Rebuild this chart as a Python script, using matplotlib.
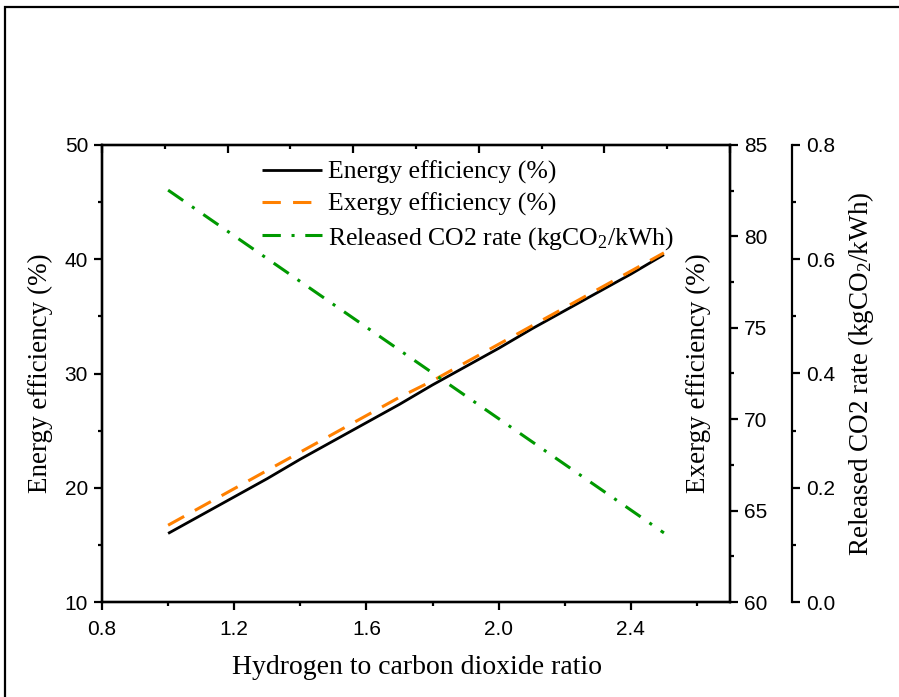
import matplotlib
matplotlib.use("Agg")
import matplotlib.pyplot as plt
from matplotlib.patches import Rectangle
from matplotlib.ticker import MultipleLocator, FormatStrFormatter

plt.rcParams['font.family'] = ['Liberation Sans', 'DejaVu Sans']
plt.rcParams['mathtext.fontset'] = 'custom'
plt.rcParams['mathtext.rm'] = 'Liberation Serif'
plt.rcParams['mathtext.it'] = 'Liberation Serif:italic'

ratio = [1.0, 1.1, 1.2, 1.3, 1.4, 1.5, 1.6, 1.7, 1.8, 1.9, 2.0, 2.1, 2.2, 2.3, 2.4, 2.5]
energy_eff = [16.0, 17.6, 19.2, 20.8, 22.5, 24.1, 25.7, 27.3, 29.0, 30.6, 32.2, 33.9, 35.5, 37.1, 38.7, 40.4]
exergy_eff = [64.2, 65.2, 66.2, 67.2, 68.2, 69.2, 70.2, 71.2, 72.1, 73.1, 74.1, 75.1, 76.1, 77.1, 78.1, 79.1]
co2_rate = [0.721, 0.681, 0.641, 0.601, 0.561, 0.521, 0.481, 0.441, 0.401, 0.361, 0.321, 0.281, 0.241, 0.201, 0.161, 0.121]

xlabel = "Hydrogen to carbon dioxide ratio"
ylabel1 = "Energy efficiency (%)"
ylabel2 = "Exergy efficiency (%)"
ylabel3 = "Released CO2 rate (kgCO$_2$/kWh)"
leg_labels = ["Energy efficiency (%)", "Exergy efficiency (%)", "Released CO2 rate (kgCO$_2$/kWh)"]

W, H = 899, 697
fig = plt.figure(figsize=(W / 100, H / 100), dpi=100)
L, R, B, T = 102, 730, 602, 145
AW, AH = R - L, B - T
ax = fig.add_axes([L / W, 1 - B / H, AW / W, AH / H])

# figure border
fig.add_artist(Rectangle((5 / W, -0.1), 1.2, (H - 7) / H + 0.1, transform=fig.transFigure,
                         fill=False, edgecolor='black', linewidth=1.6))

serif = 'Liberation Serif'
spine_w = 1.6
tick_fs = 15
lab_fs = 19.5

ax2 = ax.twinx()
ax3 = ax.twinx()
axtop = ax.twiny()

l1, = ax.plot(ratio, energy_eff, color='black', linewidth=2.0, solid_capstyle='butt')
l2, = ax2.plot(ratio, exergy_eff, color='#FF8000', linewidth=2.2, dashes=(6, 4))
l3, = ax3.plot(ratio, co2_rate, color='#009900', linewidth=2.2, dashes=(6, 3.5, 1, 3.5))

ax.set_xlim(0.8, 2.7)
ax.set_ylim(10, 50)
ax2.set_ylim(60, 85)
ax3.set_ylim(0.0, 0.8)
axtop.set_xlim(0.8, 2.8)

ax.xaxis.set_major_locator(MultipleLocator(0.4))
ax.xaxis.set_minor_locator(MultipleLocator(0.2))
ax.yaxis.set_major_locator(MultipleLocator(10))
ax.yaxis.set_minor_locator(MultipleLocator(5))
ax2.yaxis.set_major_locator(MultipleLocator(5))
ax2.yaxis.set_minor_locator(MultipleLocator(2.5))
ax3.yaxis.set_major_locator(MultipleLocator(0.2))
ax3.yaxis.set_minor_locator(MultipleLocator(0.1))
axtop.xaxis.set_major_locator(MultipleLocator(0.4))
axtop.xaxis.set_minor_locator(MultipleLocator(0.2))

ax.xaxis.set_major_formatter(FormatStrFormatter('%.1f'))
ax3.yaxis.set_major_formatter(FormatStrFormatter('%.1f'))

for a in (ax, ax2, ax3, axtop):
    for s in a.spines.values():
        s.set_linewidth(spine_w)
    a.tick_params(which='major', length=6, width=spine_w, labelsize=tick_fs, pad=4)
    a.tick_params(which='minor', length=3, width=spine_w)

ax.tick_params(axis='both', which='both', direction='out', top=False, right=False)
ax.tick_params(axis='x', pad=7)
ax2.tick_params(axis='y', which='both', direction='out')
ax3.spines['right'].set_position(('axes', 1 + 62 / AW))
ax3.tick_params(axis='y', which='both', direction='out')
ax3.spines['left'].set_visible(False)
ax3.spines['top'].set_visible(False)
ax3.spines['bottom'].set_visible(False)
axtop.tick_params(axis='x', which='both', direction='in', labeltop=False, top=True, bottom=False)
axtop.tick_params(axis='y', left=False, right=False, labelleft=False)

xl = ax.set_xlabel(xlabel, fontsize=20, family=serif)
xl.set_va('center')
ax.xaxis.set_label_coords((417 - L) / AW, (B - 668) / AH)

y1 = ax.set_ylabel(ylabel1, fontsize=lab_fs, family=serif)
y1.set_va('center')
ax.yaxis.set_label_coords((40 - L) / AW, 0.5)

y2 = ax2.set_ylabel(ylabel2, fontsize=lab_fs, family=serif)
y2.set_va('center')
ax2.yaxis.set_label_coords((698 - L) / AW, 0.5)

y3 = ax3.set_ylabel(ylabel3, fontsize=lab_fs, family=serif)
y3.set_va('center')
ax3.yaxis.set_label_coords((861 - L) / AW, 0.5)

leg = ax.legend([l1, l2, l3], leg_labels, loc='upper left',
                bbox_to_anchor=((262 - L) / AW, 1 - (161 - T) / AH),
                frameon=False, prop={'family': serif, 'size': 18.5},
                handlelength=2.35, handletextpad=0.2, labelspacing=0.33,
                borderpad=0, borderaxespad=0)

fig.savefig("out.png", dpi=100)
